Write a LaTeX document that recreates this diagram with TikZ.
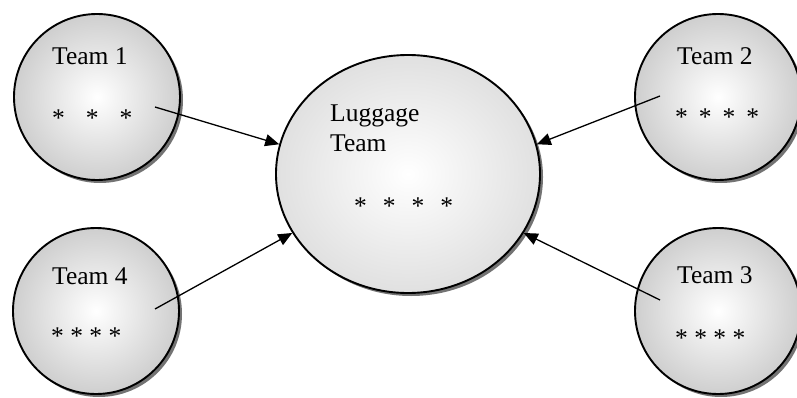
\documentclass[tikz,border=0pt]{standalone}
\usepackage{fontspec}
\setmainfont{Liberation Serif}
\usetikzlibrary{shapes.geometric}
\usetikzlibrary{shadows}
\usetikzlibrary{arrows.meta}
\pgfdeclareradialshading{teamshade}{\pgfpoint{0bp}{0bp}}{color(0bp)=(white); color(50bp)=(black!38)}
\pgfdeclareradialshading{lugshade}{\pgfpoint{0bp}{0bp}}{color(0bp)=(white); color(50bp)=(black!24)}
\tikzset{
  ball/.style={circle, draw, line width=1.9pt, minimum size=166pt, inner sep=0pt,
    shade, shading=teamshade,
    drop shadow={shadow xshift=3pt, shadow yshift=-3pt, fill=black!55, opacity=1}},
  bigball/.style={ellipse, draw, line width=1.9pt, minimum width=264pt, minimum height=238pt,
    inner sep=0pt, shade, shading=lugshade,
    drop shadow={shadow xshift=3pt, shadow yshift=-3pt, fill=black!55, opacity=1}},
  lbl/.style={anchor=base west, inner sep=0pt, font=\fontsize{25.5}{30}\selectfont},
  feed/.style={line width=1.3pt, -{Triangle[length=14pt,width=12pt]}}
}
\newcommand{\gap}[1]{\hspace{#1pt}}
\begin{document}
\begin{tikzpicture}[x=1pt,y=1pt]
        \useasboundingbox (0,0) rectangle (797,397);

        % the luggage team
        \node[bigball] (lug) at (408,223) {};
        \node[lbl] (lugname) at (330,276) {Luggage};
        \node[lbl] (lugname2) at (330,246) {Team};
        \node[lbl] (lugstars) at (354,183) {*\gap{16}*\gap{16}*\gap{16}*};

        % teams
        \node[ball] (t1) at (97,300) {};
        \node[ball] (t2) at (718,300) {};
        \node[ball] (t3) at (718,86) {};
        \node[ball] (t4) at (96,86) {};

        \node[lbl] (t1name) at (52,332) {Team 1};
        \node[lbl] (t1stars) at (52,271) {*\gap{21}*\gap{21}*};
        \node[lbl] (t2name) at (677,332) {Team 2};
        \node[lbl] (t2stars) at (675,272) {*\gap{11}*\gap{11}*\gap{11}*};
        \node[lbl] (t3name) at (677,114) {Team 3};
        \node[lbl] (t3stars) at (675,51) {* * * *};
        \node[lbl] (t4name) at (52,113) {Team 4};
        \node[lbl] (t4stars) at (51,53) {* * * *};

        % arrows
        \coordinate (s1) at (155,290);
        \coordinate (s2) at (660,301);
        \coordinate (s3) at (660,97);
        \coordinate (s4) at (155,88);
        \draw[feed] (s1) -- (lug.167);
        \draw[feed] (s2) -- (lug.13);
        \draw[feed] (s3) -- (lug.333);
        \draw[feed] (s4) -- (lug.207);
\end{tikzpicture}
\end{document}
